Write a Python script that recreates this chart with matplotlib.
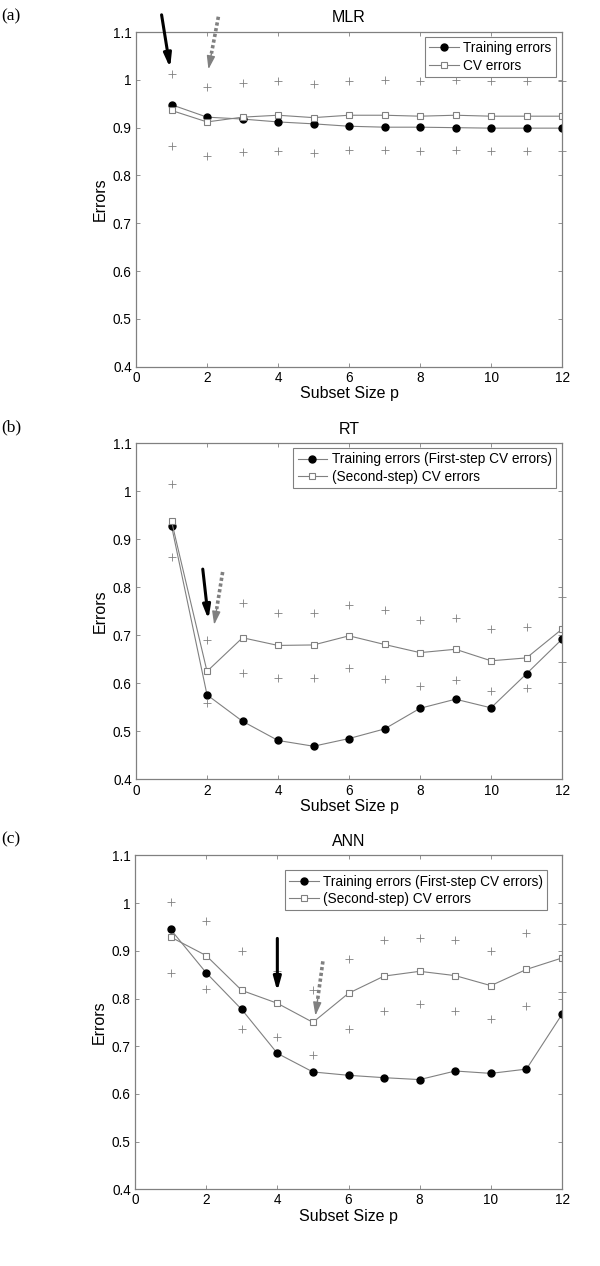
import matplotlib
matplotlib.use("Agg")
from matplotlib import pyplot as plt

plt.rcParams['font.family'] = ['Liberation Sans', 'DejaVu Sans']

# Subset sizes (x axis)
subset_size = [1, 2, 3, 4, 5, 6, 7, 8, 9, 10, 11, 12]

# MLR
mlr_train = [0.948, 0.922, 0.918, 0.912, 0.908, 0.903, 0.901, 0.901, 0.900, 0.899, 0.899, 0.899]
mlr_cv = [0.936, 0.912, 0.922, 0.926, 0.921, 0.926, 0.926, 0.924, 0.926, 0.924, 0.924, 0.924]
mlr_upper = [1.012, 0.985, 0.994, 0.997, 0.992, 0.998, 0.999, 0.997, 0.999, 0.998, 0.998, 0.998]
mlr_lower = [0.861, 0.841, 0.849, 0.852, 0.848, 0.854, 0.854, 0.852, 0.854, 0.852, 0.852, 0.852]

# RT
rt_train = [0.928, 0.576, 0.521, 0.481, 0.469, 0.485, 0.505, 0.548, 0.567, 0.549, 0.620, 0.692]
rt_cv = [0.938, 0.625, 0.695, 0.679, 0.680, 0.699, 0.681, 0.664, 0.671, 0.647, 0.653, 0.713]
rt_upper = [1.016, 0.690, 0.768, 0.747, 0.747, 0.763, 0.752, 0.733, 0.736, 0.713, 0.718, 0.780]
rt_lower = [0.863, 0.560, 0.622, 0.612, 0.612, 0.631, 0.610, 0.595, 0.608, 0.584, 0.590, 0.644]

# ANN
ann_train = [0.945, 0.854, 0.777, 0.685, 0.646, 0.639, 0.634, 0.630, 0.648, 0.643, 0.652, 0.767]
ann_cv = [0.929, 0.890, 0.817, 0.790, 0.750, 0.811, 0.847, 0.857, 0.848, 0.827, 0.861, 0.885]
ann_upper = [1.002, 0.963, 0.899, 0.857, 0.817, 0.883, 0.922, 0.927, 0.923, 0.900, 0.937, 0.956]
ann_lower = [0.854, 0.819, 0.736, 0.719, 0.681, 0.737, 0.774, 0.788, 0.773, 0.758, 0.784, 0.814]

titles = ['MLR', 'RT', 'ANN']
panel_tags = ['(a)', '(b)', '(c)']
legend_labels = [['Training errors', 'CV errors'],
                 ['Training errors (First-step CV errors)', '(Second-step) CV errors'],
                 ['Training errors (First-step CV errors)', '(Second-step) CV errors']]

# arrows: (tail, head) in data coords, black = solid, gray = dotted
black_arrows = [((0.72, 1.136), (0.96, 1.025)),
                ((1.88, 0.838), (2.04, 0.733)),
                ((4.0, 0.926), (4.0, 0.815))]
gray_arrows = [((2.32, 1.132), (2.04, 1.022)),
               ((2.44, 0.832), (2.20, 0.722)),
               ((5.28, 0.878), (5.07, 0.764))]

panels = [(mlr_train, mlr_cv, mlr_upper, mlr_lower),
          (rt_train, rt_cv, rt_upper, rt_lower),
          (ann_train, ann_cv, ann_upper, ann_lower)]

# axes rectangles, figure fraction
rects = [[0.2267, 0.7103, 0.71, 0.2644],
         [0.2267, 0.3844, 0.71, 0.2654],
         [0.2250, 0.0606, 0.7117, 0.2637]]
legend_anchor = [(0.985, 0.985), (0.985, 0.985), (0.965, 0.955)]

GRAY = '#808080'
fig = plt.figure(figsize=(6, 12.66), dpi=100)

for i in range(3):
    train, cv, upper, lower = panels[i]
    ax = fig.add_axes(rects[i])
    ax.plot(subset_size, train, color=GRAY, lw=0.8, marker='o', ms=5,
            mfc='black', mec='black', label=legend_labels[i][0])
    ax.plot(subset_size, cv, color=GRAY, lw=0.8, marker='s', ms=5,
            mfc='white', mec=GRAY, mew=0.8, label=legend_labels[i][1])
    ax.plot(subset_size, upper, ls='none', marker='+', ms=6, mew=0.6, color=GRAY, clip_on=False)
    ax.plot(subset_size, lower, ls='none', marker='+', ms=6, mew=0.6, color=GRAY, clip_on=False)

    # solid black arrow
    (bx0, by0), (bx1, by1) = black_arrows[i]
    ax.annotate('', xy=(bx1, by1), xytext=(bx0, by0), annotation_clip=False,
                arrowprops=dict(arrowstyle='-|>,head_length=0.8,head_width=0.22',
                                color='black', lw=2.2, shrinkA=0, shrinkB=0))

    # dotted gray arrow: dotted shaft + solid head
    (gx0, gy0), (gx1, gy1) = gray_arrows[i]
    hx = gx1 + 0.3 * (gx0 - gx1)
    hy = gy1 + 0.3 * (gy0 - gy1)
    ax.plot([gx0, hx], [gy0, hy], color=GRAY, lw=2.6, dashes=(0.9, 0.7),
            solid_capstyle='butt', dash_capstyle='butt', clip_on=False)
    ax.annotate('', xy=(gx1, gy1), xytext=(hx, hy), annotation_clip=False,
                arrowprops=dict(arrowstyle='-|>,head_length=0.8,head_width=0.25',
                                color=GRAY, lw=1.0, shrinkA=0, shrinkB=0))

    ax.set_xlim(0, 12)
    ax.set_ylim(0.4, 1.1)
    ax.set_xticks([0, 2, 4, 6, 8, 10, 12])
    ax.set_yticks([0.4, 0.5, 0.6, 0.7, 0.8, 0.9, 1.0, 1.1])
    ax.set_yticklabels(['0.4', '0.5', '0.6', '0.7', '0.8', '0.9', '1', '1.1'])
    ax.tick_params(direction='in', length=3, width=0.6, color=GRAY,
                   top=True, right=True, labelsize=9.8, pad=3)
    for s in ax.spines.values():
        s.set_color(GRAY)
        s.set_linewidth(0.9)
    ax.set_title(titles[i], fontsize=11.5, pad=7)
    ax.set_xlabel('Subset Size p', fontsize=11.5, labelpad=1)
    ax.set_ylabel('Errors', fontsize=11.5, labelpad=4)

    leg = ax.legend(loc='upper right', bbox_to_anchor=legend_anchor[i], fontsize=9.8,
                    fancybox=False, edgecolor=GRAY, framealpha=1, borderpad=0.3,
                    labelspacing=0.25, handletextpad=0.3, handlelength=2.2,
                    borderaxespad=0)
    leg.get_frame().set_linewidth(0.8)

    top = rects[i][1] + rects[i][3]
    fig.text(0.002, top + 0.0125, panel_tags[i], fontsize=12.5,
             family=['Liberation Serif', 'DejaVu Serif'], va='center', ha='left')

fig.savefig('out.png', dpi=100)
